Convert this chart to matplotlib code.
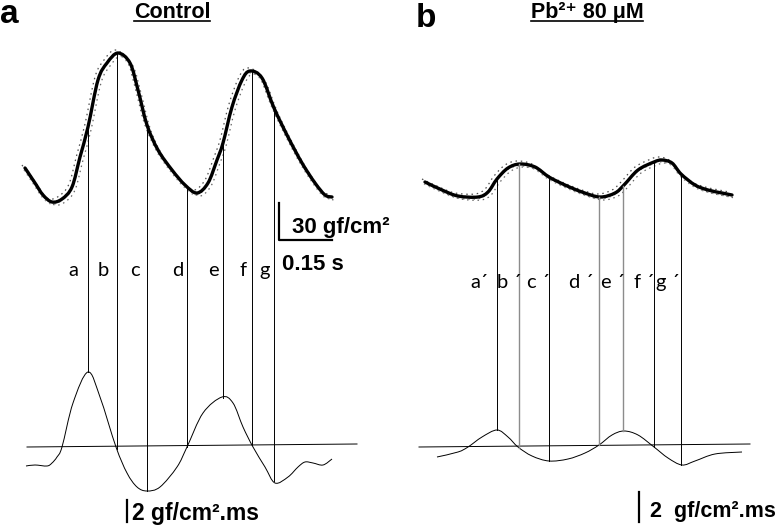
import matplotlib
matplotlib.use("Agg")
import matplotlib.pyplot as plt
import numpy as np
from matplotlib.path import Path
from matplotlib.patches import PathPatch
from matplotlib.transforms import offset_copy

# all values, in image pixels (x right, y down)

# panel a: pressure trace (Control)
press_a_x = [25, 35, 43, 52, 62, 72, 80, 88, 98, 107, 118, 130, 138, 147, 158, 172,
             185, 197, 208, 217, 223, 232, 242, 250, 262, 274, 288, 302, 315, 325, 332]
press_a_y = [168, 183, 195, 202, 199, 187, 157, 127, 80, 63, 53, 63, 90, 125, 150, 170,
             185, 193, 183, 160, 143, 107, 80, 71, 78, 108, 137, 163, 183, 195, 197]

# panel a: derivative trace
der_a_x = [26, 35, 47, 52, 57, 62, 73, 88, 100, 116, 127, 137, 147, 160, 177, 187, 203,
           222, 233, 243, 253, 265, 275, 288, 298, 305, 313, 323, 332]
der_a_y = [466, 465, 466, 463, 457, 447, 403, 372, 397, 447, 473, 487, 491, 487, 467, 447,
           413, 397, 403, 427, 447, 467, 483, 477, 467, 462, 463, 465, 459]
base_a_x = [27, 357]
base_a_y = [447, 444]

# panel a: marker lines and their labels
lines_a = [88, 117, 147, 187, 223, 252, 274]
grey_a = [False, False, False, False, False, False, False]
labels_a = ["a", "b", "c", "d", "e", "f", "g"]
label_a_x = [68, 98, 130, 172, 208, 239, 259]

# panel b: pressure trace (Pb2+ 80 uM)
press_b_x = [425, 442, 458, 478, 488, 497, 508, 520, 535, 549, 565, 582, 600, 615, 624,
             638, 654, 662, 672, 681, 695, 708, 722, 732]
press_b_y = [182, 190, 196, 197, 192, 179, 168, 164, 167, 177, 185, 192, 197, 193, 185,
             170, 162, 160, 163, 174, 185, 190, 193, 195]

# panel b: derivative trace
der_b_x = [437, 458, 468, 482, 497, 508, 518, 532, 549, 568, 585, 599, 612, 624, 638,
           654, 668, 682, 695, 715, 742]
der_b_y = [457, 452, 447, 437, 430, 437, 447, 456, 461, 459, 453, 445, 435, 431, 435,
           447, 458, 465, 461, 454, 452]
base_b_x = [419, 750]
base_b_y = [447, 444]

lines_b = [497, 519, 549, 599, 623, 654, 681]
grey_b = [False, True, False, True, True, False, False]
labels_b = ["a\u00b4", "b \u00b4", "c \u00b4", "d \u00b4", "e \u00b4", "f \u00b4", "g \u00b4"]
label_b_x = [470, 497, 527, 569, 601, 634, 656]

W, H = 780, 526
fig = plt.figure(figsize=(7.8, 5.26), dpi=100)
ax = fig.add_axes([0, 0, 1, 1])
ax.set_xlim(0, W)
ax.set_ylim(H, 0)
ax.axis("off")

bold = ["Liberation Sans", "DejaVu Sans"]
thin = ["Lato", "DejaVu Sans"]


def smooth_path(xs, ys):
    # Catmull-Rom through the read points, handed to matplotlib as cubic Bezier segments
    p = np.column_stack([xs, ys]).astype(float)
    verts = [p[0]]
    codes = [Path.MOVETO]
    n = len(p)
    for i in range(n - 1):
        p0 = p[max(i - 1, 0)]
        p1 = p[i]
        p2 = p[i + 1]
        p3 = p[min(i + 2, n - 1)]
        verts += [p1 + (p2 - p0) / 6, p2 - (p3 - p1) / 6, p2]
        codes += [Path.CURVE4] * 3
    return Path(verts, codes)


def draw_curve(xs, ys, transform=None, **kw):
    patch = PathPatch(smooth_path(xs, ys), fill=False, **kw)
    if transform is not None:
        patch.set_transform(transform)
    ax.add_patch(patch)


def panel(px, py, dx, dy, bx, by, lines, grey, labels, lab_x, lab_y):
    # faint dotted raw samples around the smoothed trace
    for ox, oy, c in [(-3, 3, "0.3"), (3, -3, "0.4"), (-1, -2, "0.55")]:
        tr = offset_copy(ax.transData, fig=fig, x=ox, y=oy, units="dots")
        draw_curve(px, py, transform=tr, edgecolor=c, lw=0.9, ls=(0, (1.2, 3)))
    draw_curve(px, py, edgecolor="black", lw=2.4, joinstyle="round", capstyle="round")
    draw_curve(dx, dy, edgecolor="black", lw=0.7)
    ax.plot(bx, by, color="black", lw=0.7)
    for x, g in zip(lines, grey):
        top = np.interp(x, px, py)
        bot = np.interp(x, dx, dy)
        ax.plot([x, x], [top, bot], color="0.55" if g else "black", lw=1.0 if g else 0.7)
    for t, x in zip(labels, lab_x):
        ax.text(x, lab_y, t, fontsize=14.5, family=thin, va="baseline", ha="left")


panel(press_a_x, press_a_y, der_a_x, der_a_y, base_a_x, base_a_y,
      lines_a, grey_a, labels_a, label_a_x, 276)
panel(press_b_x, press_b_y, der_b_x, der_b_y, base_b_x, base_b_y,
      lines_b, grey_b, labels_b, label_b_x, 288)

# panel letters and titles
ax.text(0, 23, "a", fontsize=24, fontweight="bold", family=bold, va="baseline")
ax.text(416, 27, "b", fontsize=24, fontweight="bold", family=bold, va="baseline")
titles = [ax.text(172, 18, "Control", fontsize=15.5, fontweight="bold", family=bold,
                  ha="center", va="baseline"),
          ax.text(587, 18, "Pb\u00b2\u207a 80 \u03bcM", fontsize=15.5, fontweight="bold",
                  family=bold, ha="center", va="baseline")]

# scale bars
ax.plot([279, 279, 332], [203, 240, 240], color="black", lw=1.6)
ax.text(292, 233, "30 gf/cm\u00b2", fontsize=16, fontweight="bold", family=bold, va="baseline")
ax.text(282, 270, "0.15 s", fontsize=16, fontweight="bold", family=bold, va="baseline")
ax.plot([127, 127], [500, 522], color="black", lw=1.6)
ax.text(132, 520, "2 gf/cm\u00b2.ms", fontsize=16.5, fontweight="bold", family=bold, va="baseline")
ax.plot([639, 639], [492, 522], color="black", lw=1.6)
ax.text(650, 517, "2  gf/cm\u00b2.ms", fontsize=15.5, fontweight="bold", family=bold, va="baseline")

# underline titles
fig.canvas.draw()
inv = ax.transData.inverted()
for t in titles:
    bb = t.get_window_extent()
    (x0, _), (x1, _) = inv.transform([[bb.x0, bb.y0], [bb.x1, bb.y0]])
    ax.plot([x0, x1], [21, 21], color="black", lw=1.2)

fig.savefig("out.png", dpi=100)
